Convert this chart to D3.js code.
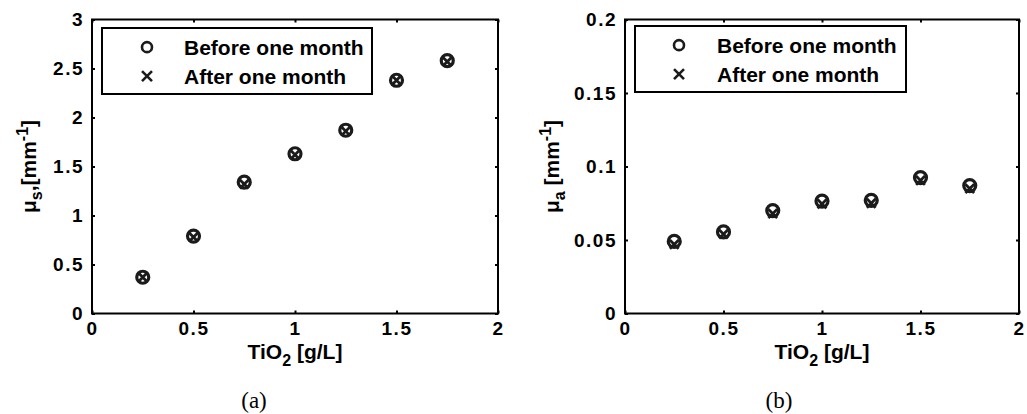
<!DOCTYPE html>
<html>
<head>
<meta charset="utf-8">
<script src="https://cdn.jsdelivr.net/npm/d3@7"></script>
<style>
  html, body { margin: 0; padding: 0; background: #fff; }
  svg text { font-family: "Liberation Sans", Arial, sans-serif; font-weight: bold; fill: #000; }
  svg text.caption { font-family: "Liberation Serif", "DejaVu Serif", serif; font-weight: normal; }
</style>
</head>
<body>
<div id="chart"></div>
<script>
// TiO2 concentration [g/L]
const tio2 = [0.25, 0.5, 0.75, 1.0, 1.25, 1.5, 1.75];

// (a) scattering coefficient mu_s [mm^-1]
const musBefore = [0.37, 0.79, 1.34, 1.63, 1.87, 2.38, 2.58];
const musAfter  = [0.37, 0.78, 1.32, 1.62, 1.86, 2.38, 2.57];

// (b) absorption coefficient mu_a [mm^-1]
const muaBefore = [0.049, 0.0555, 0.070, 0.0765, 0.077, 0.0925, 0.087];
const muaAfter  = [0.047, 0.054, 0.068, 0.0745, 0.075, 0.0905, 0.085];

const xTicks = [0, 0.5, 1, 1.5, 2];
const musTicks = [0, 0.5, 1, 1.5, 2, 2.5, 3];
const muaTicks = [0, 0.05, 0.1, 0.15, 0.2];

const legendLabels = ["Before one month", "After one month"];

const W = 1027, H = 414;
const svg = d3.select("#chart").append("svg")
    .attr("width", W).attr("height", H);

const ink = "#1b1b1b";

function drawPanel(p) {
    const g = svg.append("g");
    const x = d3.scaleLinear().domain([0, 2]).range([p.left, p.right]);
    const y = d3.scaleLinear().domain(p.yDomain).range([p.bottom, p.top]);

    // ticks (inward, all four sides)
    const fmt = d => String(d);
    g.append("g").attr("transform", `translate(0,${p.bottom})`)
        .call(d3.axisBottom(x).tickValues(xTicks).tickSize(-3).tickPadding(8).tickFormat(fmt))
        .call(a => a.select(".domain").remove());
    g.append("g").attr("transform", `translate(0,${p.top})`)
        .call(d3.axisTop(x).tickValues(xTicks).tickSize(-3).tickFormat(""))
        .call(a => a.select(".domain").remove());
    g.append("g").attr("transform", `translate(${p.left},0)`)
        .call(d3.axisLeft(y).tickValues(p.yTicks).tickSize(-3).tickPadding(8).tickFormat(fmt))
        .call(a => a.select(".domain").remove());
    g.append("g").attr("transform", `translate(${p.right},0)`)
        .call(d3.axisRight(y).tickValues(p.yTicks).tickSize(-3).tickFormat(""))
        .call(a => a.select(".domain").remove());

    g.selectAll(".tick line").attr("stroke", "#000").attr("stroke-width", 2);
    g.selectAll(".tick text")
        .attr("font-size", 19).attr("font-family", "Liberation Sans, Arial, sans-serif")
        .attr("font-weight", "bold").attr("letter-spacing", 1.5).attr("fill", "#000");

    g.append("rect")
        .attr("x", p.left).attr("y", p.top)
        .attr("width", p.right - p.left).attr("height", p.bottom - p.top)
        .attr("fill", "none").attr("stroke", "#000").attr("stroke-width", 2);

    // markers: circles (before) and crosses (after)
    g.append("g").selectAll("circle")
        .data(tio2.map((t, i) => [t, p.before[i]]))
        .join("circle")
        .attr("cx", d => x(d[0])).attr("cy", d => y(d[1]))
        .attr("r", 6)
        .attr("fill", "none").attr("stroke", ink).attr("stroke-width", 3.2);

    const cs = 4.4;
    g.append("g").selectAll("path")
        .data(tio2.map((t, i) => [t, p.after[i]]))
        .join("path")
        .attr("d", d => {
            const cx = x(d[0]), cy = y(d[1]);
            return `M${cx - cs},${cy - cs}L${cx + cs},${cy + cs}M${cx - cs},${cy + cs}L${cx + cs},${cy - cs}`;
        })
        .attr("stroke", ink).attr("stroke-width", 2.8).attr("fill", "none");

    // legend
    const lg = p.legend;
    g.append("rect")
        .attr("x", lg.x).attr("y", lg.y).attr("width", lg.w).attr("height", lg.h)
        .attr("fill", "#fff").attr("stroke", "#000").attr("stroke-width", 2);
    const rows = [lg.y + lg.h * 0.29, lg.y + lg.h * 0.73];
    g.append("circle")
        .attr("cx", lg.mx).attr("cy", rows[0]).attr("r", 5)
        .attr("fill", "none").attr("stroke", ink).attr("stroke-width", 2.6);
    const ls = 5;
    g.append("path")
        .attr("d", `M${lg.mx - ls},${rows[1] - ls}L${lg.mx + ls},${rows[1] + ls}M${lg.mx - ls},${rows[1] + ls}L${lg.mx + ls},${rows[1] - ls}`)
        .attr("stroke", ink).attr("stroke-width", 2.6);
    g.selectAll("text.leg")
        .data(legendLabels)
        .join("text")
        .attr("class", "leg")
        .attr("x", lg.tx).attr("y", (d, i) => rows[i] + 7.5)
        .attr("font-size", 21)
        .text(d => d);

    // x label
    const xl = g.append("text")
        .attr("x", (p.left + p.right) / 2).attr("y", 359)
        .attr("text-anchor", "middle").attr("font-size", 21);
    xl.append("tspan").text("TiO");
    xl.append("tspan").attr("font-size", 16).attr("dy", 7).text("2");
    xl.append("tspan").attr("dy", -7).text(" [g/L]");

    // y label
    const yl = g.append("text")
        .attr("transform", `translate(${p.ylx},${(p.top + p.bottom) / 2}) rotate(-90)`)
        .attr("text-anchor", "middle").attr("font-size", 21);
    yl.append("tspan").text("\u03bc");
    yl.append("tspan").attr("font-size", 16).attr("dy", 6).text(p.sub);
    yl.append("tspan").attr("dy", -6).text(p.mid + "[mm");
    yl.append("tspan").attr("font-size", 16).attr("dy", -8).text("-1");
    yl.append("tspan").attr("dy", 8).text("]");

    // caption
    g.append("text").attr("class", "caption")
        .attr("x", p.capx).attr("y", 408)
        .attr("text-anchor", "middle").attr("font-size", 23)
        .text(p.caption);
}

drawPanel({
    left: 92, right: 498, top: 19.5, bottom: 313.5,
    yDomain: [0, 3], yTicks: musTicks,
    before: musBefore, after: musAfter,
    legend: { x: 102, y: 28, w: 270, h: 66, mx: 147, tx: 184 },
    ylx: 36, sub: "s", mid: ",",
    caption: "(a)", capx: 254
});

drawPanel({
    left: 625, right: 1019, top: 19.5, bottom: 313.5,
    yDomain: [0, 0.2], yTicks: muaTicks,
    before: muaBefore, after: muaAfter,
    legend: { x: 635, y: 26, w: 271, h: 66, mx: 679, tx: 717 },
    ylx: 559, sub: "a", mid: " ",
    caption: "(b)", capx: 779
});
</script>
</body>
</html>
